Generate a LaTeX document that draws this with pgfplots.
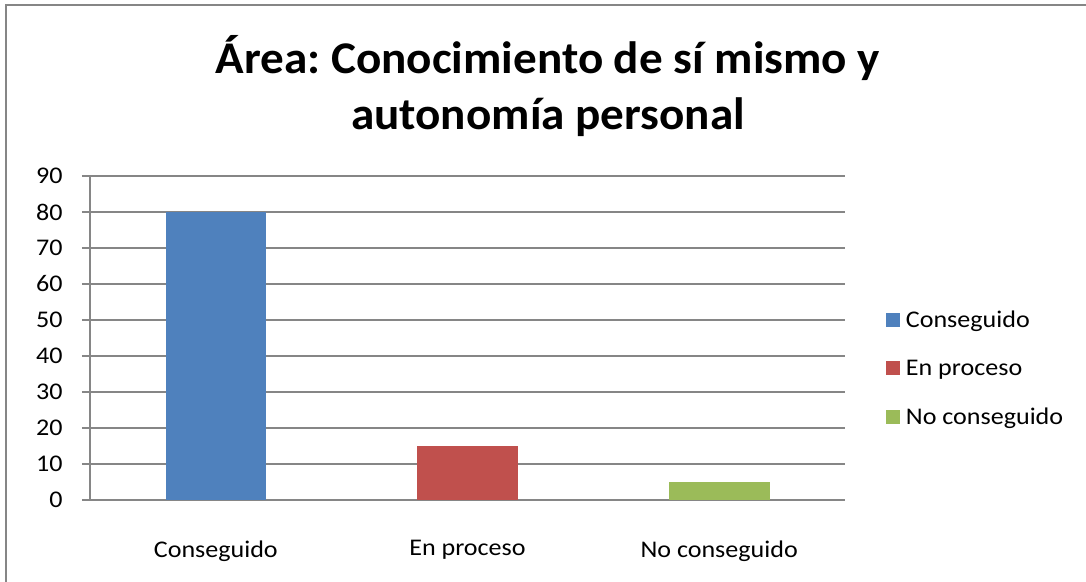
\documentclass[border=0pt]{standalone}
\usepackage{pgfplots}
\pgfplotsset{compat=1.18}
\usepackage{fontspec}
\setmainfont[FakeStretch=1.09]{Carlito}
\newfontfamily\titlefont[FakeStretch=1.04]{Carlito}
\frenchspacing
\definecolor{serA}{HTML}{4F81BD}
\definecolor{serB}{HTML}{C0504D}
\definecolor{serC}{HTML}{9BBB59}
\definecolor{gridgray}{HTML}{868686}
\begin{document}
\begin{tikzpicture}
\useasboundingbox (0,0) rectangle (1086bp,-582bp);
% chart frame (only top and left edges are visible in the crop)
\draw[gridgray, line width=2bp] (6bp,-582bp) -- (6bp,-5bp) -- (1086bp,-5bp);
\node[align=center, font=\titlefont\bfseries\fontsize{45.5}{56}\selectfont, anchor=base]
  at (548bp,-129bp) {Área: Conocimiento de sí mismo y\\autonomía personal};
\begin{axis}[
    at={(90bp,-500bp)}, anchor=south west,
    scale only axis,
    width=755bp, height=324bp,
    ybar, bar width=0.4, bar shift=0pt,
    xmin=-0.5, xmax=2.5,
    ymin=0, ymax=90,
    ytick={0,10,...,90},
    xtick={0,1,2},
    xticklabels={Conseguido, En proceso, No conseguido},
    major x tick style={draw=none},
    extra x ticks={-0.5,0.5,1.5,2.5},
    extra x tick labels={},
    extra x tick style={grid=none, major tick length=8bp, tick style={draw=gridgray, line width=1.2bp}},
    axis lines*=left,
    axis line style={draw=gridgray, line width=1.2bp},
    ymajorgrids,
    grid style={draw=gridgray, line width=1.2bp},
    tick align=outside,
    major tick length=8bp,
    tick style={draw=gridgray, line width=1.2bp},
    ticklabel style={font=\fontsize{24}{29}\selectfont},
    /pgf/number format/assume math mode=true,
    xticklabel style={yshift=-29bp},
    yticklabel style={xshift=-16bp},
    legend style={at={(1.05,0.407)}, anchor=west, draw=none, fill=none,
      font=\fontsize{24}{29}\selectfont, row sep=27bp,
      legend cell align=left,
      /tikz/every odd column/.append style={column sep=4bp}},
    legend image code/.code={\fill[#1] (0bp,-7bp) rectangle (14bp,7bp);},
  ]
  \addplot[fill=serA, draw=none] coordinates {(0,80)};
  \addplot[fill=serB, draw=none] coordinates {(1,15)};
  \addplot[fill=serC, draw=none] coordinates {(2,5)};
  \legend{Conseguido, En proceso, No conseguido}
\end{axis}
\end{tikzpicture}
\end{document}
